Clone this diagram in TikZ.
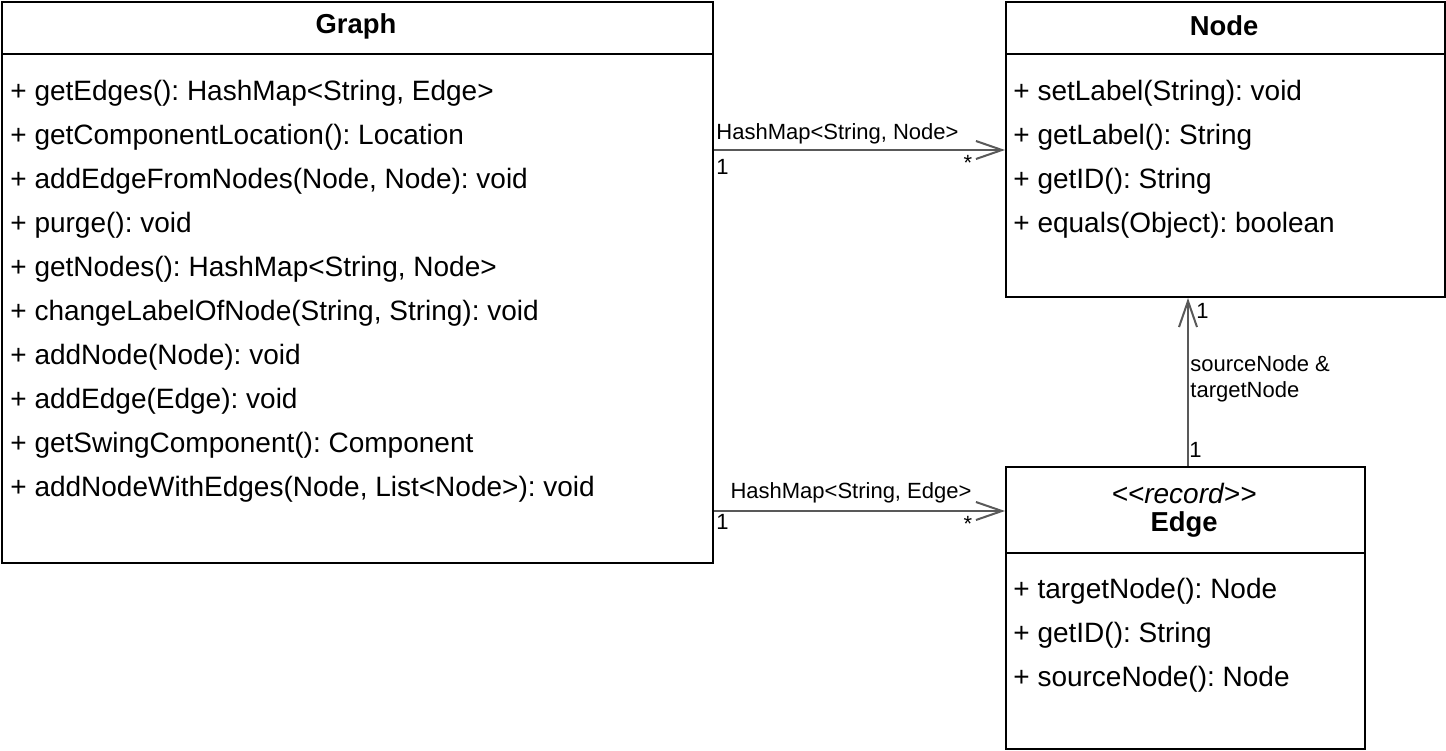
\documentclass[tikz,border=0pt]{standalone}
\usepackage{fontspec}
\setmainfont{Liberation Sans}
\usetikzlibrary{arrows.meta,calc}
\begin{document}
\frenchspacing
\begin{tikzpicture}[x=0.5pt,y=-0.5pt,
  classbox/.style={draw=black,line width=1pt,fill=white,anchor=north west,inner sep=0pt},
  member/.style={anchor=west,inner sep=0pt,font=\fontsize{14}{16}\selectfont},
  ctitle/.style={inner sep=0pt,font=\fontsize{13.7}{16}\selectfont\bfseries},
  lbl/.style={inner sep=0pt,font=\fontsize{11}{13}\selectfont},
  assoc/.style={draw=black!65,line width=1pt,-{Straight Barb[length=13pt,width=9pt,line width=1pt]}}]
\useasboundingbox (0,0) rectangle (1446,750);
% class boxes
\node[classbox,minimum width=355.5pt,minimum height=280.5pt] (graph) at (1,1) {};
\node[classbox,minimum width=219.5pt,minimum height=147.5pt] (node) at (1005,1) {};
\node[classbox,minimum width=179.5pt,minimum height=141pt] (edge) at (1005,466) {};
% header separators
\draw[line width=1pt] ([yshift=-26.5pt]graph.north west) -- ([yshift=-26.5pt]graph.north east);
\draw[line width=1pt] ([yshift=-26.5pt]node.north west) -- ([yshift=-26.5pt]node.north east);
\draw[line width=1pt] ([yshift=-43.5pt]edge.north west) -- ([yshift=-43.5pt]edge.north east);
% titles
\node[ctitle] (gtitle) at (356,26) {Graph};
\node[ctitle] (ntitle) at (1224,26) {Node};
\node[inner sep=0pt,font=\fontsize{14}{16}\selectfont\itshape] (stereo) at (1184,493) {{<}{<}record{>}{>}};
\node[ctitle] (etitle) at (1184,524) {Edge};
% Graph members
\node[member] (g1) at (10,93) {+ getEdges(): HashMap<String, Edge>};
\node[member] (g2) at (10,137) {+ getComponentLocation(): Location};
\node[member] (g3) at (10,181) {+ addEdgeFromNodes(Node, Node): void};
\node[member] (g4) at (10,225) {+ purge(): void};
\node[member] (g5) at (10,269) {+ getNodes(): HashMap<String, Node>};
\node[member] (g6) at (10,313) {+ changeLabelOfNode(String, String): void};
\node[member] (g7) at (10,357) {+ addNode(Node): void};
\node[member] (g8) at (10,401) {+ addEdge(Edge): void};
\node[member] (g9) at (10,445) {+ getSwingComponent(): Component};
\node[member] (g10) at (10,489) {+ addNodeWithEdges(Node, List<Node>): void};
% Node members
\node[member] (n1) at (1013,93) {+ setLabel(String): void};
\node[member] (n2) at (1013,137) {+ getLabel(): String};
\node[member] (n3) at (1013,181) {+ getID(): String};
\node[member] (n4) at (1013,225) {+ equals(Object): boolean};
% Edge members
\node[member] (e1) at (1013,591) {+ targetNode(): Node};
\node[member] (e2) at (1013,635) {+ getID(): String};
\node[member] (e3) at (1013,679) {+ sourceNode(): Node};
% connectors
\coordinate (ya) at (0,150);
\coordinate (yb) at (0,511);
\coordinate (xv) at (1188,0);
\draw[assoc] (graph.east |- ya) -- (node.west |- ya);
\draw[assoc] (graph.east |- yb) -- (edge.west |- yb);
\draw[assoc] (edge.north -| xv) -- (node.south -| xv);
% connector labels
\node[lbl,anchor=west] (la) at (716,134) {HashMap<String, Node>};
\node[lbl,anchor=west] (la1) at (716,167) {1};
\node[lbl] (las) at (968,163) {*};
\node[lbl] (lb) at (851,493) {HashMap<String, Edge>};
\node[lbl,anchor=west] (lb1) at (716,522) {1};
\node[lbl] (lbs) at (968,524) {*};
\node[lbl,anchor=west] (lv1) at (1196,311) {1};
\node[lbl,anchor=west,align=left] (lv) at (1190,379) {sourceNode \&\\targetNode};
\node[lbl,anchor=west] (lv2) at (1189,450) {1};
\end{tikzpicture}
\end{document}
